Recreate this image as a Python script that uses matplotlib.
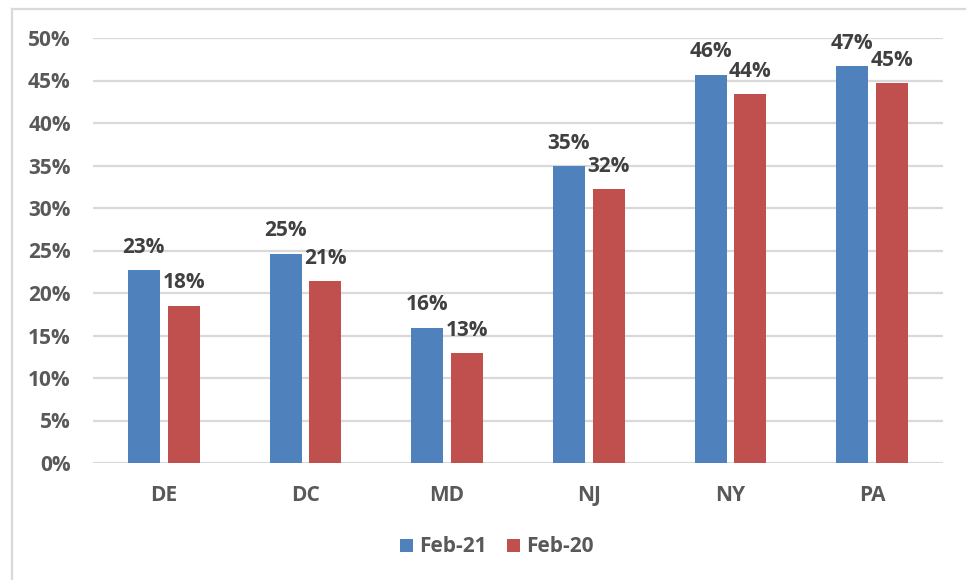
import matplotlib.pyplot as plt
import numpy as np
from matplotlib.lines import Line2D
from matplotlib.ticker import PercentFormatter

states = ["DE", "DC", "MD", "NJ", "NY", "PA"]
feb21 = [22.7, 24.6, 15.9, 34.9, 45.7, 46.7]
feb20 = [18.5, 21.4, 12.9, 32.2, 43.4, 44.7]
feb21_labels = ["23%", "25%", "16%", "35%", "46%", "47%"]
feb20_labels = ["18%", "21%", "13%", "32%", "44%", "45%"]

blue = "#4F81BD"
red = "#C0504D"
tickColor = "#595959"
labelColor = "#404040"
gridColor = "#D9D9D9"
fs = 15

plt.rcParams['font.family'] = ['Open Sans', 'DejaVu Sans']

fig = plt.figure(figsize=(9.66, 5.8), dpi=100)
ax = fig.add_axes([93 / 966, 1 - 463 / 580, 850 / 966, 425 / 580])

x = np.arange(len(states))
width = 0.226
offset = 0.141

bars21 = ax.bar(x - offset, feb21, width, color=blue, label="Feb-21", zorder=3)
bars20 = ax.bar(x + offset, feb20, width, color=red, label="Feb-20", zorder=3)

# Datenbeschriftung ueber den Balken
for bars, labels in [(bars21, feb21_labels), (bars20, feb20_labels)]:
    ax.bar_label(bars, labels=labels, padding=9, fontsize=fs, fontweight='bold', color=labelColor)

ax.set_xlim(-0.5, len(states) - 0.5)
ax.set_ylim(0, 50)
ax.set_yticks(np.arange(0, 51, 5))
ax.yaxis.set_major_formatter(PercentFormatter(decimals=0))
ax.set_xticks(x)
ax.set_xticklabels(states)

for spine in ax.spines.values():
    spine.set_visible(False)
ax.grid(axis='y', color=gridColor, linewidth=1.6, zorder=0)
ax.set_axisbelow(True)
ax.tick_params(axis='both', length=0, labelsize=fs, labelcolor=tickColor)
ax.tick_params(axis='y', pad=16)
ax.tick_params(axis='x', pad=16)
for lbl in ax.get_xticklabels() + ax.get_yticklabels():
    lbl.set_fontweight('bold')

leg = fig.legend(loc='center', bbox_to_anchor=(497 / 966, 1 - 547 / 580), ncol=2, frameon=False,
                 handlelength=0.6, handleheight=0.6, handletextpad=0.3, columnspacing=1.0,
                 prop={'size': fs, 'weight': 'bold'})
for t in leg.get_texts():
    t.set_color(tickColor)

# Rahmen (nur oben und links sichtbar)
fig.add_artist(Line2D([11.5 / 966, 1], [1 - 8.5 / 580, 1 - 8.5 / 580], color=gridColor, linewidth=1.6))
fig.add_artist(Line2D([11.5 / 966, 11.5 / 966], [0, 1 - 8.5 / 580], color=gridColor, linewidth=1.6))

fig.savefig("out.png", dpi=100)
